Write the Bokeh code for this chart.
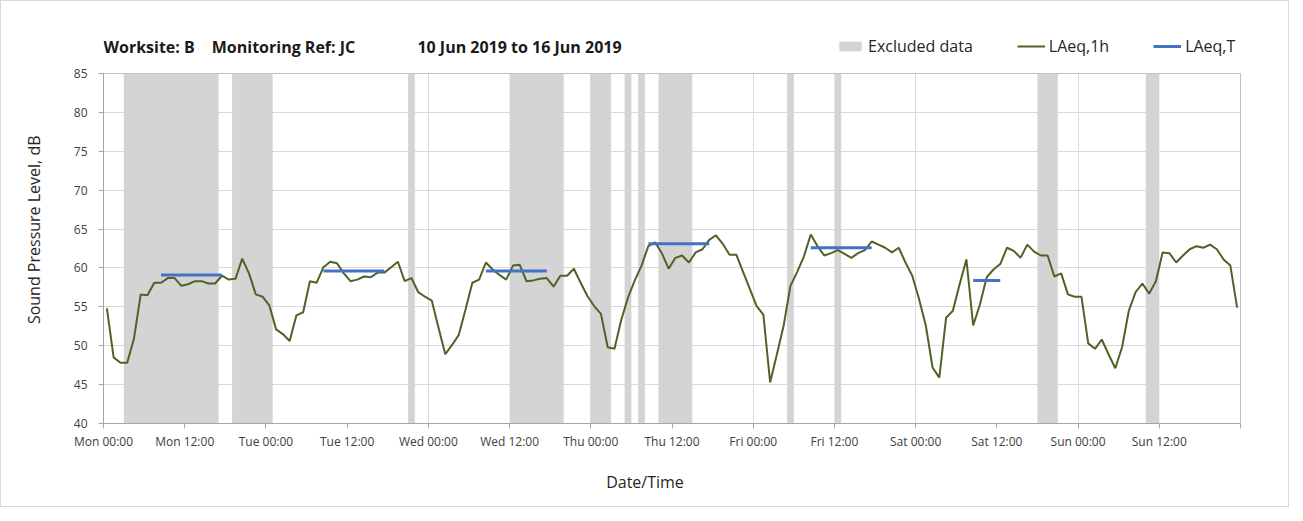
import numpy as np
from bokeh.plotting import figure
from bokeh.layouts import column
from bokeh.models import Range1d, FixedTicker, Label, Legend, LegendItem, ColumnDataSource
from bokeh.embed import file_html
from bokeh.resources import INLINE

# ---------------- data ----------------
# hourly sample times (hours since Mon 00:00, plotted at mid-hour)
sample_hours = [k + 0.5 for k in range(168)]

laeq_1h = [
    # Mon
    54.8, 48.5, 47.8, 47.8, 50.9, 56.6, 56.5, 58.1, 58.1, 58.7, 58.7, 57.7,
    57.9, 58.3, 58.3, 58.0, 58.0, 59.0, 58.5, 58.6, 61.2, 59.3, 56.6, 56.3,
    # Tue
    55.2, 52.1, 51.5, 50.6, 53.9, 54.3, 58.3, 58.1, 60.1, 60.8, 60.6, 59.3,
    58.3, 58.5, 58.9, 58.8, 59.4, 59.4, 60.1, 60.8, 58.3, 58.7, 56.9, 56.3,
    # Wed
    55.8, 52.3, 48.9, 50.1, 51.4, 54.7, 58.1, 58.5, 60.7, 59.8, 59.1, 58.5,
    60.3, 60.4, 58.3, 58.4, 58.6, 58.7, 57.6, 59.0, 59.0, 59.9, 58.1, 56.4,
    # Thu
    55.1, 54.1, 49.8, 49.6, 53.3, 56.2, 58.4, 60.3, 62.8, 63.3, 61.9, 59.9,
    61.3, 61.6, 60.7, 62.0, 62.4, 63.6, 64.2, 63.1, 61.7, 61.7, 59.5, 57.3,
    # Fri
    55.1, 54.0, 45.3, 48.9, 52.6, 57.7, 59.5, 61.5, 64.3, 62.8, 61.6, 61.9,
    62.3, 61.8, 61.3, 61.9, 62.3, 63.4, 63.0, 62.6, 62.0, 62.6, 60.7, 59.0,
    # Sat
    56.0, 52.6, 47.2, 45.9, 53.6, 54.5, 57.9, 61.1, 52.6, 55.3, 58.8, 59.8,
    60.5, 62.6, 62.2, 61.3, 63.0, 62.1, 61.6, 61.6, 58.9, 59.3, 56.6, 56.3,
    # Sun
    56.3, 50.3, 49.6, 50.8, 48.9, 47.1, 49.8, 54.5, 56.9, 58.0, 56.7, 58.3,
    62.0, 61.9, 60.7, 61.6, 62.4, 62.8, 62.6, 63.0, 62.4, 61.1, 60.3, 54.9,
]

excluded_start = [3, 19, 45, 60, 72, 77, 79, 82, 101, 108, 138, 154]
excluded_end = [17, 25, 46, 68, 75, 78, 80, 87, 102, 109, 141, 156]

laeq_t_start = [8.5, 32.5, 56.5, 80.5, 104.5, 128.5]
laeq_t_end = [17.5, 41.5, 65.5, 89.5, 113.5, 132.5]
laeq_t_value = [59.1, 59.6, 59.6, 63.1, 62.6, 58.4]

tick_hours = [0, 12, 24, 36, 48, 60, 72, 84, 96, 108, 120, 132, 144, 156, 168]
tick_labels = ["Mon 00:00", "Mon 12:00", "Tue 00:00", "Tue 12:00", "Wed 00:00",
               "Wed 12:00", "Thu 00:00", "Thu 12:00", "Fri 00:00", "Fri 12:00",
               "Sat 00:00", "Sat 12:00", "Sun 00:00", "Sun 12:00", ""]
day_gridlines = [24, 48, 72, 96, 120, 144]

y_min, y_max = 40, 85
y_ticks = [40, 45, 50, 55, 60, 65, 70, 75, 80, 85]

title_parts = ["Worksite: B", "Monitoring Ref: JC", "10 Jun 2019 to 16 Jun 2019"]
legend_labels = ["Excluded data", "LAeq,1h", "LAeq,T"]
x_title = "Date/Time"
y_title = "Sound Pressure Level, dB"

FONT = "Open Sans"
GREY_TXT = "#404040"
BAND_COLOR = "#d4d4d4"
GREEN = "#4f6228"
BLUE = "#4472c4"
NBSP = "\u00a0"

W = 1287
TOP_H = 62
MAIN_H = 443

# ---------------- header (title + legend) ----------------
top = figure(width=W, height=TOP_H, output_backend="svg", toolbar_location=None,
             x_range=Range1d(0, 1), y_range=Range1d(0, 1),
             min_border=0, min_border_left=0, min_border_right=0,
             min_border_top=0, min_border_bottom=0)
top.axis.visible = False
top.grid.visible = False
top.outline_line_color = None

title_pos = [(0, "left"), (180, "center"), (416, "center")]
for txt, (xo, al) in zip(title_parts, title_pos):
    top.add_layout(Label(x=xo, y=17, x_units="screen", y_units="screen", text=txt,
                         text_font=FONT, text_font_size="16px", text_font_style="bold",
                         text_color="#1a1a1a", text_baseline="middle", text_align=al))

nan_src = ColumnDataSource(dict(left=np.array([np.nan]), right=np.array([np.nan]),
                                bottom=np.array([np.nan]), top=np.array([np.nan]),
                                x=np.array([np.nan]), y=np.array([np.nan])))
lg_band = top.quad(left="left", right="right", bottom="bottom", top="top", source=nan_src,
                   fill_color=BAND_COLOR, line_color=None)
lg_green = top.line("x", "y", source=nan_src, line_color=GREEN, line_width=2)
lg_blue = top.line("x", "y", source=nan_src, line_color=BLUE, line_width=3)

legend = Legend(items=[LegendItem(label=legend_labels[0], renderers=[lg_band]),
                       LegendItem(label=legend_labels[1], renderers=[lg_green]),
                       LegendItem(label=legend_labels[2], renderers=[lg_blue])],
                orientation="horizontal", location=(733, 6),
                border_line_color=None, background_fill_alpha=0,
                padding=0, margin=0, spacing=44, glyph_width=28, glyph_height=12,
                label_standoff=4, label_height=18,
                label_text_font=FONT, label_text_font_size="16px",
                label_text_color="#262626")
top.add_layout(legend)

# ---------------- main chart ----------------
p = figure(width=W, height=MAIN_H, output_backend="svg", toolbar_location=None,
           x_range=Range1d(0, 168), y_range=Range1d(y_min, y_max),
           min_border_left=102, min_border_right=48, min_border_top=10,
           min_border_bottom=83)
p.outline_line_color = "#bfbfbf"

p.ygrid.ticker = FixedTicker(ticks=y_ticks)
p.ygrid.grid_line_color = "#d9d9d9"
p.xgrid.ticker = FixedTicker(ticks=day_gridlines)
p.xgrid.grid_line_color = "#d9d9d9"

p.xaxis.ticker = FixedTicker(ticks=tick_hours)
p.xaxis.major_label_overrides = {h: l for h, l in zip(tick_hours, tick_labels)}
p.yaxis.ticker = FixedTicker(ticks=y_ticks)
for ax in (p.xaxis[0], p.yaxis[0]):
    ax.axis_line_color = "#a6a6a6"
    ax.major_tick_line_color = "#a6a6a6"
    ax.major_tick_out = 5
    ax.major_tick_in = 0
    ax.minor_tick_line_color = None
    ax.major_label_text_font = FONT
    ax.major_label_text_font_size = "12px"
    ax.major_label_text_color = GREY_TXT
    ax.axis_label_text_font = FONT
    ax.axis_label_text_font_size = "16px"
    ax.axis_label_text_font_style = "normal"
    ax.axis_label_text_color = "#262626"
# titles are offset from the frame centre as in the reference (padding with nbsp)
p.xaxis.axis_label = x_title + NBSP * 13
p.yaxis.axis_label = NBSP * 9 + y_title
p.xaxis.major_label_standoff = 4
p.yaxis.major_label_standoff = 11
p.xaxis.axis_label_standoff = 18
p.yaxis.axis_label_standoff = 26

band_src = ColumnDataSource(dict(left=excluded_start, right=excluded_end))
p.quad(left="left", right="right", bottom=y_min, top=y_max, source=band_src,
       fill_color=BAND_COLOR, line_color=None)

line_src = ColumnDataSource(dict(x=sample_hours, y=laeq_1h))
p.line("x", "y", source=line_src, line_color=GREEN, line_width=2)

t_src = ColumnDataSource(dict(x0=laeq_t_start, x1=laeq_t_end, y=laeq_t_value))
p.segment(x0="x0", y0="y", x1="x1", y1="y", source=t_src,
          line_color=BLUE, line_width=3)

layout = column(top, p, spacing=0)
layout.styles = {"border": "1px solid #d9d9d9"}

open("out.html", "w").write(file_html(layout, INLINE))
